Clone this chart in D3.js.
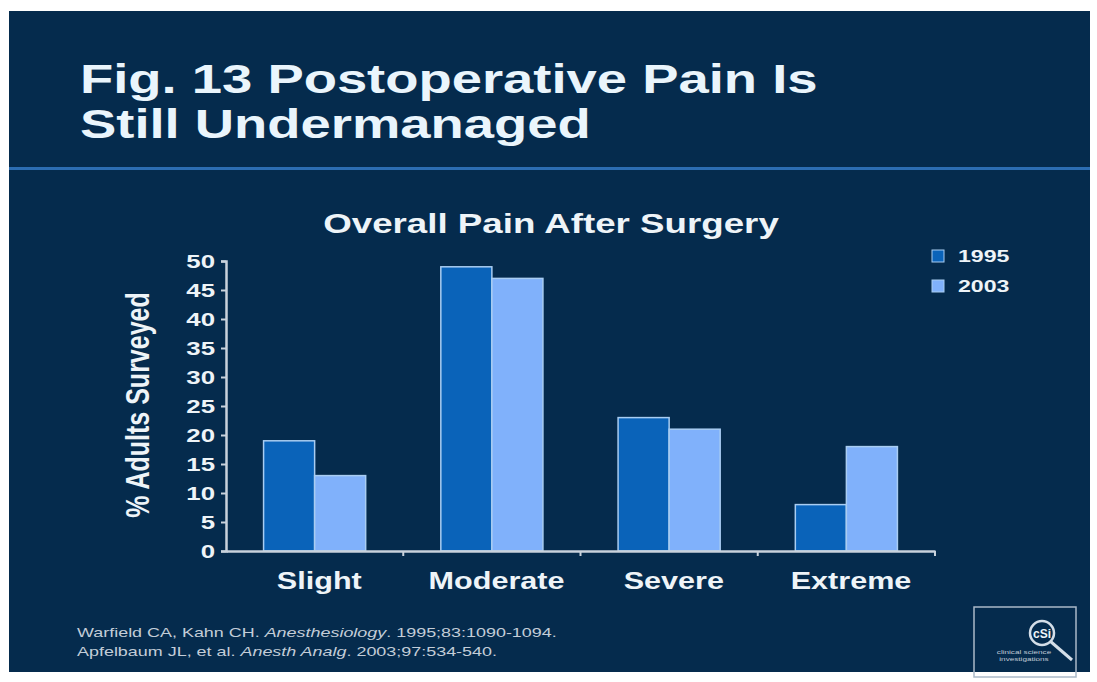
<!DOCTYPE html>
<html>
<head>
<meta charset="utf-8">
<script src="https://cdn.jsdelivr.net/npm/d3@7"></script>
<style>
  html, body { margin: 0; padding: 0; background: #ffffff; }
  svg { display: block; }
</style>
</head>
<body>
<div id="chart"></div>
<script>
const categories = ["Slight", "Moderate", "Severe", "Extreme"];
const years = ["1995", "2003"];
const values1995 = [19, 49, 23, 8];
const values2003 = [13, 47, 21, 18];
const yTicks = [0, 5, 10, 15, 20, 25, 30, 35, 40, 45, 50];
const footnotes = [
    [["Warfield CA, Kahn CH. ", false], ["Anesthesiology", true], [". 1995;83:1090-1094.", false]],
    [["Apfelbaum JL, et al. ", false], ["Anesth Analg", true], [". 2003;97:534-540.", false]]
];

const width = 1097,
    height = 682;
const margin = { top: 261, left: 226, right: 162, bottom: 131 };
const colors = { "1995": "#0a63b9", "2003": "#80b1fb" };
const stretch = 1.36; // the slide text is wide, like a 4:3 slide pulled sideways
const font = "Liberation Sans, Arial, sans-serif";

const svg = d3.select("#chart")
    .append("svg")
    .attr("width", width)
    .attr("height", height);

// slide background
svg.append("rect")
    .attr("x", 9).attr("y", 11)
    .attr("width", 1081).attr("height", 661)
    .attr("fill", "#052b4d");

svg.append("rect")
    .attr("x", 9).attr("y", 167)
    .attr("width", 1081).attr("height", 3)
    .attr("fill", "#2c6db2");

// wide text helper
function wideText(parent, x, y, size, weight, anchor, s) {
    return parent.append("text")
        .attr("transform", `translate(${x}, ${y}) scale(${s || stretch}, 1)`)
        .attr("text-anchor", anchor || "start")
        .attr("font-family", font)
        .attr("font-weight", weight)
        .attr("font-size", size)
        .attr("fill", "#eef4f8");
}

// slide title
wideText(svg, 80, 93, 40, "bold").attr("fill", "#eaf5fc").text("Fig. 13 Postoperative Pain Is");
wideText(svg, 80, 138, 40, "bold").attr("fill", "#eaf5fc").text("Still Undermanaged");

const plotW = width - margin.left - margin.right;
const plotH = height - margin.top - margin.bottom;

const g = svg.append("g")
    .attr("transform", `translate(${margin.left}, ${margin.top})`);

const x = d3.scaleBand()
    .domain(categories)
    .range([0, plotW])
    .paddingInner(0)
    .paddingOuter(0);

const xSub = d3.scaleBand()
    .domain(years)
    .range([x.bandwidth() * 0.212, x.bandwidth() * 0.788]);

const y = d3.scaleLinear()
    .domain([0, 50])
    .range([plotH, 0]);

// chart title
wideText(svg, 551, 233, 27, "bold", "middle").text("Overall Pain After Surgery");

// bars
const rows = categories.map((c, i) => ({ cat: c, vals: [values1995[i], values2003[i]] }));

g.selectAll(".grp")
    .data(rows)
    .join("g")
    .attr("class", "grp")
    .attr("transform", d => `translate(${x(d.cat)}, 0)`)
    .selectAll("rect")
    .data(d => years.map((yr, j) => ({ yr: yr, v: d.vals[j] })))
    .join("rect")
    .attr("x", d => xSub(d.yr))
    .attr("y", d => y(d.v))
    .attr("width", xSub.bandwidth())
    .attr("height", d => plotH - y(d.v))
    .attr("fill", d => colors[d.yr])
    .attr("stroke", "#a9cdf2")
    .attr("stroke-width", 1.5);

// y axis
const yAxis = g.append("g")
    .call(d3.axisLeft(y).tickValues(yTicks).tickSize(5).tickPadding(6));
yAxis.select(".domain").attr("stroke", "#c9d2dc").attr("stroke-width", 2.5);
yAxis.selectAll(".tick line").attr("stroke", "#c9d2dc").attr("stroke-width", 2);
yAxis.selectAll(".tick text")
    .attr("x", -11 / stretch)
    .attr("transform", `scale(${stretch}, 1)`)
    .attr("font-family", font)
    .attr("font-weight", "bold")
    .attr("font-size", 19)
    .attr("fill", "#eef4f8");

// x axis
const xAxis = g.append("g")
    .attr("transform", `translate(0, ${plotH})`)
    .call(d3.axisBottom(x).tickSize(0).tickPadding(22));
xAxis.select(".domain").attr("stroke", "#c9d2dc").attr("stroke-width", 2.5);
xAxis.selectAll(".tick text")
    .attr("transform", "scale(1.33, 1)")
    .attr("font-family", font)
    .attr("font-weight", "bold")
    .attr("font-size", 23)
    .attr("fill", "#eef4f8")
    .attr("dx", 3.5);

// separator ticks between categories
g.append("g")
    .selectAll("line")
    .data(categories.slice(1).concat(["end"]))
    .join("line")
    .attr("x1", (d, i) => x.step() * (i + 1))
    .attr("x2", (d, i) => x.step() * (i + 1))
    .attr("y1", plotH)
    .attr("y2", plotH + 5)
    .attr("stroke", "#c9d2dc")
    .attr("stroke-width", 2);

// y axis label
svg.append("text")
    .attr("transform", `translate(149, 405) scale(${stretch}, 1) rotate(-90)`)
    .attr("text-anchor", "middle")
    .attr("font-family", font)
    .attr("font-weight", "bold")
    .attr("font-size", 25)
    .attr("fill", "#eef4f8")
    .text("% Adults Surveyed");

// legend
const legend = svg.append("g").attr("transform", "translate(932, 250)");
years.forEach((yr, i) => {
    legend.append("rect")
        .attr("x", 0).attr("y", i * 30)
        .attr("width", 12).attr("height", 12)
        .attr("fill", colors[yr])
        .attr("stroke", "#a9cdf2")
        .attr("stroke-width", 1);
    wideText(legend, 26, i * 30 + 12, 17, "bold").text(yr);
});

// footnotes
footnotes.forEach((parts, i) => {
    const t = wideText(svg, 77, 637 + i * 19, 13, "normal", "start", 1.38)
        .attr("fill", "#c3cdd8");
    parts.forEach(p => {
        t.append("tspan")
            .attr("font-style", p[1] ? "italic" : "normal")
            .text(p[0]);
    });
});

// logo
const logo = svg.append("g").attr("transform", "translate(974, 607)");
logo.append("rect")
    .attr("width", 102).attr("height", 70)
    .attr("fill", "none")
    .attr("stroke", "#aab9c8")
    .attr("stroke-width", 1.5);
logo.append("line")
    .attr("x1", 76).attr("y1", 34).attr("x2", 98).attr("y2", 53)
    .attr("stroke", "#d4dee8").attr("stroke-width", 3);
logo.append("circle")
    .attr("cx", 68).attr("cy", 26).attr("r", 12)
    .attr("fill", "none").attr("stroke", "#d4dee8").attr("stroke-width", 2.5);
logo.append("text")
    .attr("x", 68).attr("y", 31)
    .attr("text-anchor", "middle")
    .attr("font-family", font)
    .attr("font-weight", "bold")
    .attr("font-size", 12)
    .attr("fill", "#eef4f8")
    .text("cSi");
wideText(logo, 50, 47, 6, "normal", "middle").attr("fill", "#c3cdd8").text("clinical science");
wideText(logo, 50, 54, 6, "normal", "middle").attr("fill", "#c3cdd8").text("investigations");
</script>
</body>
</html>
